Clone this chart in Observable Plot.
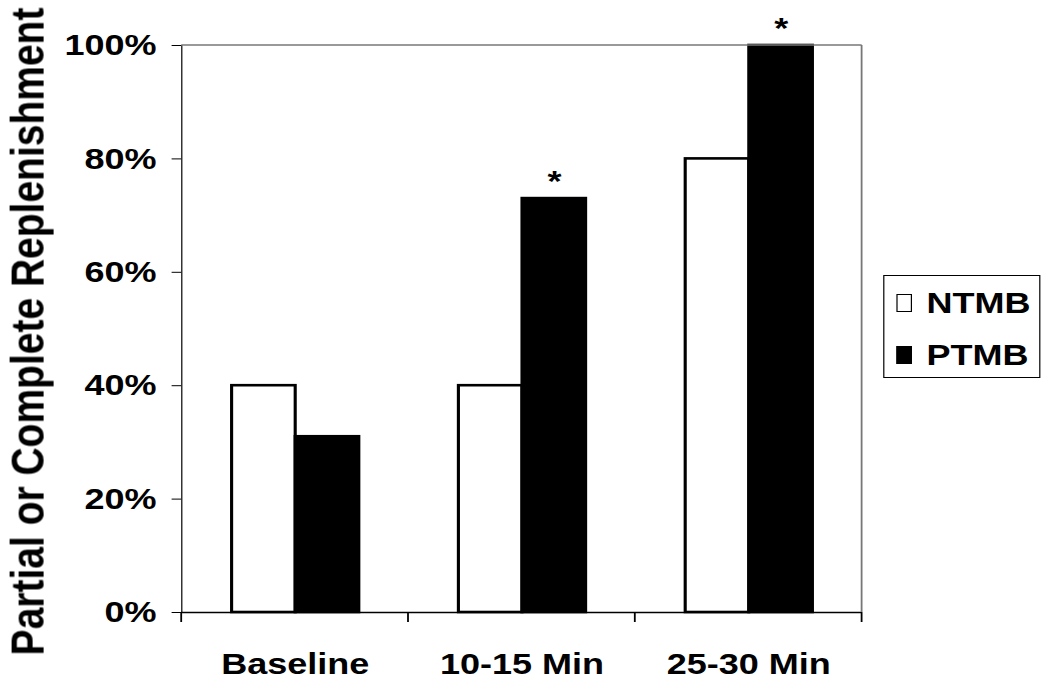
<!DOCTYPE html>
<html>
<head>
<meta charset="utf-8">
<script src="https://cdn.jsdelivr.net/npm/d3@7"></script>
<script src="https://cdn.jsdelivr.net/npm/@observablehq/plot@0.6"></script>
<style>
  html, body { margin: 0; padding: 0; background: #fff; }
  #wrap { position: relative; width: 875px; height: 687px; transform: scaleX(1.2); transform-origin: 0 0; }
  #legend { position: absolute; left: 736px; top: 275px; width: 131px; height: 103px; border: 1.5px solid #000; box-sizing: border-box;
            font-family: "Liberation Sans", Arial, sans-serif; font-weight: bold; font-size: 30px; color: #000; }
  .item { position: absolute; left: 10px; display: flex; align-items: center; white-space: nowrap; }
  .sw { flex: 0 0 auto; width: 13px; height: 18px; min-width: 13px; border: 1.5px solid #000; box-sizing: border-box; margin-right: 12px; }
</style>
</head>
<body>
<div id="wrap"></div>
<script>
const categories = ["Baseline", "10-15 Min", "25-30 Min"];
const series = ["NTMB", "PTMB"];
const ntmbValues = [0.40, 0.40, 0.80];
const ptmbValues = [0.31, 0.73, 1.00];
const ptmbSignificant = [false, true, true];
const yTicks = [0, 0.2, 0.4, 0.6, 0.8, 1.0];
const seriesFill = ["white", "black"];

const data = [];
categories.forEach((c, i) => {
  data.push({cat: c, series: "NTMB", value: ntmbValues[i], sig: false});
  data.push({cat: c, series: "PTMB", value: ptmbValues[i], sig: ptmbSignificant[i]});
});

const W = 875, H = 687, ML = 150, MR = 156, MT = 45, MB = 75;

const plot = Plot.plot({
  width: W, height: H,
  marginLeft: ML, marginRight: MR, marginTop: MT, marginBottom: MB,
  style: {fontFamily: "'Liberation Sans', Arial, sans-serif", fontSize: "30px", fontWeight: "bold", color: "black", background: "white", overflow: "visible"},
  fx: {domain: categories, padding: 0, label: null, axis: "bottom", tickSize: 0, tickPadding: 40},
  x: {domain: series, paddingInner: 0, paddingOuter: 0.765, axis: null},
  y: {domain: [0, 1], ticks: yTicks, tickFormat: d3.format(".0%"), tickSize: 8, tickPadding: 13,
      label: null, line: true},
  color: {domain: series, range: seriesFill, legend: false},
  marks: [
    Plot.barY(data, {fx: "cat", x: "series", y: "value", fill: "series", stroke: "black", strokeWidth: 2.6}),
    Plot.ruleY([0], {stroke: "black", strokeWidth: 1.6}),
    Plot.text(data.filter(d => d.sig), {fx: "cat", x: "series", y: "value", text: () => "*", lineAnchor: "middle", dy: -17, fontSize: 30})
  ]
});

document.getElementById("wrap").appendChild(plot);

// frame (top/right), boundary ticks, y label
const svg = d3.select(plot);
const fx = plot.scale("fx");
const y = plot.scale("y");
const yTop = y.apply(1), yBot = y.apply(0);
const bounds = categories.map(c => fx.apply(c));
bounds.push(fx.apply(categories[categories.length - 1]) + fx.bandwidth);
const left = bounds[0], right = bounds[bounds.length - 1];
const g = svg.append("g");
g.append("line").attr("x1", left).attr("x2", right).attr("y1", yTop).attr("y2", yTop).attr("stroke", "#777").attr("stroke-width", 1.5);
g.append("line").attr("x1", right).attr("x2", right).attr("y1", yTop).attr("y2", yBot).attr("stroke", "#777").attr("stroke-width", 1.5);
bounds.forEach(b => {
  g.append("line").attr("x1", b).attr("x2", b).attr("y1", yBot).attr("y2", yBot + 10).attr("stroke", "black").attr("stroke-width", 1.5);
});
g.append("text")
  .attr("transform", `translate(8.5,${(yTop + yBot) / 2 + 3}) rotate(-90)`)
  .attr("text-anchor", "middle").attr("dy", "0.72em")
  .attr("font-size", 39).attr("font-weight", "bold")
  .attr("font-family", "'Liberation Sans', Arial, sans-serif")
  .text("Partial or Complete Replenishment");

// legend
const legend = document.createElement("div");
legend.id = "legend";
series.forEach((s, i) => {
  const it = document.createElement("div");
  it.className = "item";
  it.style.top = (i === 0 ? 12 : 64) + "px";
  it.style.lineHeight = "30px";
  const sw = document.createElement("div");
  sw.className = "sw";
  sw.style.background = seriesFill[i];
  const t = document.createElement("span");
  t.textContent = s;
  it.appendChild(sw); it.appendChild(t);
  legend.appendChild(it);
});
document.getElementById("wrap").appendChild(legend);
</script>
</body>
</html>
